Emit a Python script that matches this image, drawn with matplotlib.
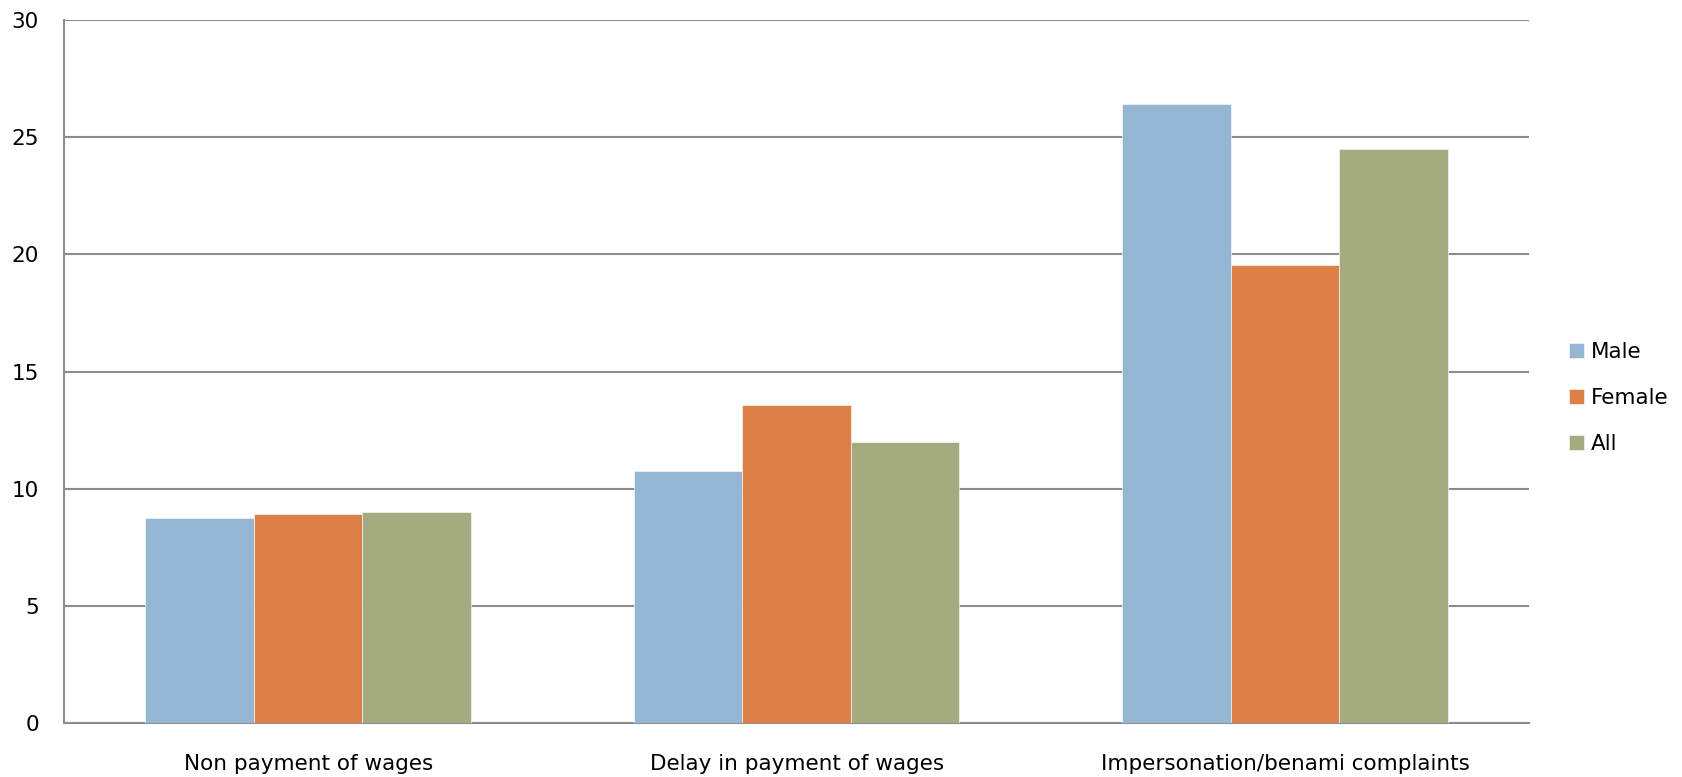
import matplotlib.pyplot as plt
import numpy as np

categories = ['Non payment of wages', 'Delay in payment of wages', 'Impersonation/benami complaints']
series = ['Male', 'Female', 'All']
male = [8.75, 10.75, 26.42]
female = [8.93, 13.57, 19.57]
all_ = [9.01, 12.02, 24.49]
colors = ['#94B6D2', '#DD8047', '#A5AB81']

plt.rcParams['font.family'] = ['DejaVu Sans']

fig = plt.figure(figsize=(16.83, 7.77), dpi=100)
ax = fig.add_axes([0.038, 0.0689, 0.8706, 0.9054])

x = np.arange(len(categories))
w = 1 / 4.5
for i, (name, vals) in enumerate(zip(series, [male, female, all_])):
    ax.bar(x + (i - 1) * w, vals, width=w, color=colors[i], label=name,
           edgecolor='#f4f4f4', linewidth=0.5, zorder=3)

ax.set_xlim(-0.5, 2.5)
ax.set_ylim(0, 30)
ax.set_yticks(range(0, 31, 5))
ax.set_xticks(x)
ax.set_xticklabels(categories)
ax.yaxis.grid(True, color='#8c8c8c', linewidth=1.5, zorder=0)
ax.tick_params(axis='both', length=0, labelsize=15.5, colors='black')
ax.tick_params(axis='x', pad=22)
ax.tick_params(axis='y', pad=18)
for s in ['top', 'right']:
    ax.spines[s].set_visible(False)
for s in ['left', 'bottom']:
    ax.spines[s].set_color('#8c8c8c')
    ax.spines[s].set_linewidth(1.5)

ax.legend(loc='center left', bbox_to_anchor=(1.014, 0.463), frameon=False,
          fontsize=15.5, handlelength=0.7, handleheight=0.7,
          handletextpad=0.3, labelspacing=1.2)

fig.savefig('out.png', dpi=100)
